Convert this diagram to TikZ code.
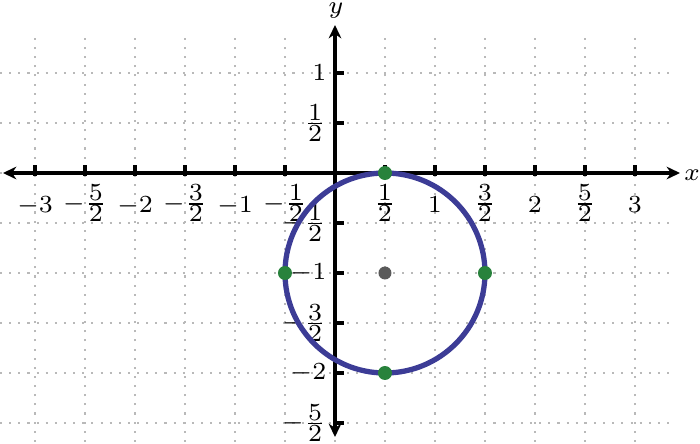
\documentclass[tikz,border=0pt]{standalone}
\usetikzlibrary{arrows.meta}
\definecolor{circblue}{RGB}{60,60,150}
\definecolor{ptgreen}{RGB}{40,130,60}
\definecolor{ctrgray}{RGB}{90,90,90}
\newcommand{\hfr}[2]{\frac{\textstyle #1}{\textstyle #2}}

\begin{document}
\begin{tikzpicture}[font=\fontsize{7.2}{8.6}\selectfont,
   xlab/.style={anchor=base, inner sep=0pt},
   ylab/.style={anchor=east, inner sep=0pt},
   >={Stealth[length=3.8pt,width=3.6pt]}]
   \useasboundingbox (-3.35,-2.71) rectangle (3.65,1.73);
   \draw[gray!55, line width=0.5pt, dash pattern=on 0.6pt off 2pt] (-3.35,-2.69) grid[step=0.5] (3.35,1.4);
   \draw[<->, line width=0.9pt] (-3.32,0) -- (3.45,0);
   \draw[<->, line width=0.9pt] (0,-2.64) -- (0,1.48);
   % ticks
   \foreach \t in {-3,-2.5,-2,-1.5,-1,-0.5,0.5,1,1.5,2,2.5,3}
      \draw[line width=0.9pt] (\t,-0.03) -- (\t,0.08);
   \foreach \t in {-2.5,-2,-1.5,-1,-0.5,0.5,1}
      \draw[line width=0.9pt] (0,\t) -- (0.09,\t);
   % x labels
   \node[xlab] (xm3) at (-3,-0.39) {$-3$};
   \node[xlab] (xm52) at (-2.5,-0.37) {$-\hfr{5}{2}$};
   \node[xlab] (xm2) at (-2,-0.39) {$-2$};
   \node[xlab] (xm32) at (-1.5,-0.37) {$-\hfr{3}{2}$};
   \node[xlab] (xm1) at (-1,-0.39) {$-1$};
   \node[xlab] (xm12) at (-0.5,-0.37) {$-\hfr{1}{2}$};
   \node[xlab] (x12) at (0.5,-0.37) {$\hfr{1}{2}$};
   \node[xlab] (x1) at (1,-0.39) {$1$};
   \node[xlab] (x32) at (1.5,-0.37) {$\hfr{3}{2}$};
   \node[xlab] (x2) at (2,-0.39) {$2$};
   \node[xlab] (x52) at (2.5,-0.37) {$\hfr{5}{2}$};
   \node[xlab] (x3) at (3,-0.39) {$3$};
   % y labels
   \node[ylab] (y1) at (-0.08,1) {$1$};
   \node[ylab] (y12) at (-0.08,0.5) {$\hfr{1}{2}$};
   \node[ylab] (ym12) at (-0.08,-0.5) {$-\hfr{1}{2}$};
   \node[ylab] (ym1) at (-0.08,-1) {$-1$};
   \node[ylab] (ym32) at (-0.08,-1.5) {$-\hfr{3}{2}$};
   \node[ylab] (ym2) at (-0.08,-2) {$-2$};
   \node[ylab] (ym52) at (-0.08,-2.5) {$-\hfr{5}{2}$};
   \node[inner sep=0pt] (xname) at (3.57,-0.02) {$x$};
   \node[inner sep=0pt] (yname) at (0.01,1.62) {$y$};
   % circle and points
   \draw[circblue, line width=1.5pt] (0.5,-1) circle(1);
   \fill[ctrgray] (0.5,-1) circle(0.065);
   \fill[ptgreen] (0.5,0) circle(0.07);
   \fill[ptgreen] (-0.5,-1) circle(0.07);
   \fill[ptgreen] (1.5,-1) circle(0.07);
   \fill[ptgreen] (0.5,-2) circle(0.07);
\end{tikzpicture}
\end{document}
